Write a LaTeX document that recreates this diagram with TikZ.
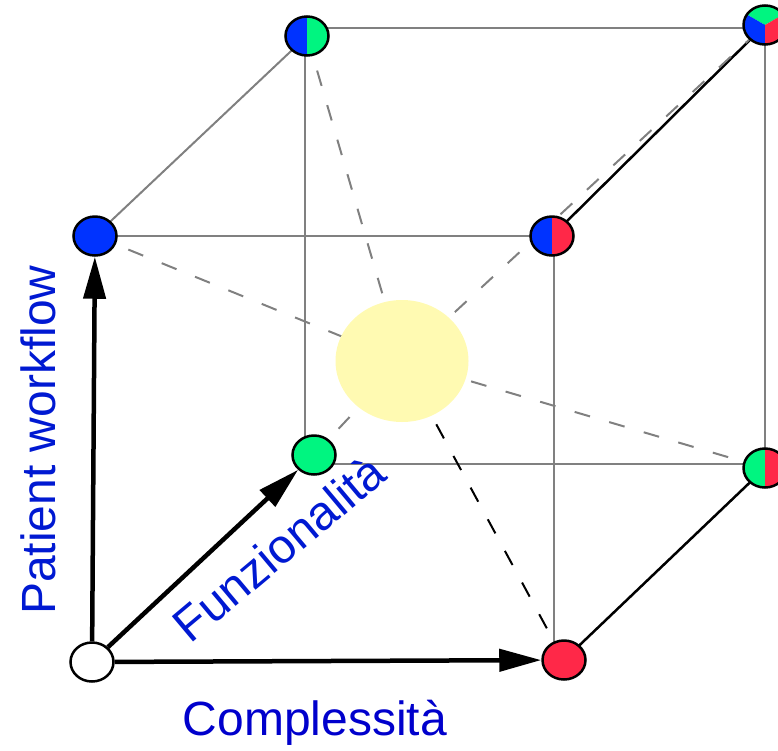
\documentclass[tikz,border=0pt]{standalone}
\usepackage{fontspec}
\setmainfont{Liberation Sans}
\usetikzlibrary{shapes.geometric,arrows.meta,calc}
\definecolor{cblue}{RGB}{0,51,255}
\definecolor{cgreen}{RGB}{0,245,128}
\definecolor{cred}{RGB}{255,40,72}
\definecolor{cyel}{RGB}{255,250,178}
\definecolor{ctext}{RGB}{0,25,210}
\definecolor{cgray}{RGB}{128,128,128}
\pgfdeclarelayer{bg}
\pgfsetlayers{bg,main}
\tikzset{
  vtx/.style={ellipse, draw=black, line width=2.5pt, minimum width=43pt, minimum height=39pt, inner sep=0pt},
  halves/.style 2 args={path picture={
     \fill[#1] (path picture bounding box.south west) rectangle (path picture bounding box.north);
     \fill[#2] (path picture bounding box.south) rectangle (path picture bounding box.north east);}},
  edge/.style={draw=cgray, line width=2pt},
  bedge/.style={draw=black, line width=2.5pt},
  diag/.style={draw=cgray, line width=2pt, dash pattern=on 16pt off 20pt},
  bdiag/.style={draw=black, line width=2pt, dash pattern=on 16pt off 20pt},
  axis/.style={draw=black, line width=4.5pt, -{Triangle[length=42pt,width=22pt]}},
  lbl/.style={text=ctext, font=\fontsize{48}{57}\selectfont, inner sep=0pt, anchor=base}
}
\begin{document}
\begin{tikzpicture}[x=1pt,y=-1pt]
\useasboundingbox (0,0) rectangle (778,750);
% center
\node[ellipse, fill=cyel, minimum width=133pt, minimum height=122pt, inner sep=0pt] (c) at (402,361) {};
% vertices
\node[vtx, fill=white] (o) at (92,662) {};
\node[vtx, fill=cred] (r) at (564,660) {};
\node[vtx, fill=cblue] (b) at (95,236) {};
\node[vtx, fill=cgreen] (g) at (314,455) {};
\node[vtx, halves={cblue}{cred}] (br) at (552,236) {};
\node[vtx, halves={cblue}{cgreen}] (bg) at (307,36) {};
\node[vtx, halves={cgreen}{cred}] (gr) at (765,468) {};
\node[vtx, path picture={
   \fill[cgreen] (path picture bounding box.center) -- ++(150:40pt) -- ++(0:70pt) -- cycle;
   \fill[cgreen] (path picture bounding box.center) ++(150:40pt) -- ++(90:40pt) -- ++(0:70pt) -- ++(-90:40pt) -- cycle;
   \fill[cblue] (path picture bounding box.center) -- ++(150:40pt) -- ++(-90:60pt) -- ++(0:34.64pt) -- cycle;
   \fill[cred] (path picture bounding box.center) -- ++(30:40pt) -- ++(-90:60pt) -- ++(180:34.64pt) -- cycle;
 }] (t) at (765,25) {};
\begin{pgfonlayer}{bg}
  % cube edges
  \path[edge] (b.center) -- (br.center);
  \path[edge] (b.center) -- (bg.center);
  \path[edge] ([yshift=8pt]bg.center) -- ([yshift=8pt]bg.center -| t.center);
  \path[edge] ([xshift=-2pt]bg.center) -- ([xshift=-2pt]bg.center |- g.center);
  \path[edge] ([yshift=-9pt]g.center) -- ([yshift=-9pt]g.center -| gr.center);
  \path[edge] ([xshift=2pt]br.center) -- ([xshift=2pt]br.center |- r.center);
  \path[edge] (gr.center) -- (t.center);
  \path[bedge] (r.center) -- (gr.center);
  \path[bedge] (br.center) -- (t.center);
  % diagonals through the centre
  \path[diag] (b.center) -- (c.center);
  \path[diag] (c.center) -- (gr.center);
  \path[diag] (bg.center) -- (c.center);
  \path[diag] (g.center) -- (c.center);
  \path[diag] (c.center) -- (t.center);
  \path[bdiag] (c.center) -- (r.center);
\end{pgfonlayer}
% axes
\path[axis] (o) -- (b);
\path[axis] (o) -- (r);
\path[axis] (o) -- (g);
% labels
\node[lbl, rotate=90] (pw) at (55,440) {Patient workflow};
\node[lbl, rotate=40] (fz) at (290,561) {Funzionalità};
\node[lbl, text=blue!80!black] (cx) at (315,735) {Complessità};
\end{tikzpicture}
\end{document}
